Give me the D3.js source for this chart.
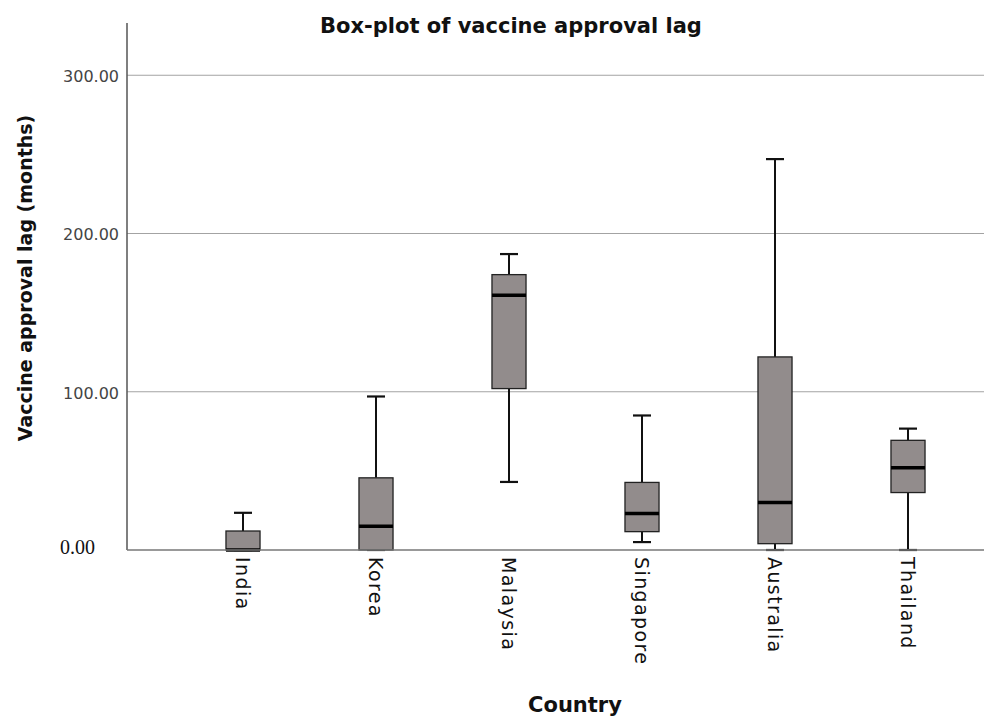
<!DOCTYPE html>
<html>
<head>
<meta charset="utf-8">
<script src="https://cdn.jsdelivr.net/npm/d3@7"></script>
<style>
  body { margin: 0; background: #fff; }
  svg { display: block; }
</style>
</head>
<body>
<div id="chart"></div>
<script>
// box-plot values (months)
const countries = ["India", "Korea", "Malaysia", "Singapore", "Australia", "Thailand"];
const whiskerLow = [0, 0, 43, 5, 0, 0];
const q1 = [0, 0, 102, 11.6, 4, 36.3];
const median = [0, 15, 161, 23, 30, 52];
const q3 = [12, 45.6, 174, 42.7, 122, 69.3];
const whiskerHigh = [23.5, 97, 187, 85, 247, 76.7];
const yTicks = [0, 100, 200, 300];

const width = 984, height = 718;
const plot = {left: 127, right: 984, top: 23, bottom: 550};

const data = countries.map((c, i) => ({
    country: c, lo: whiskerLow[i], q1: q1[i], med: median[i], q3: q3[i], hi: whiskerHigh[i]
}));

const svg = d3.select("#chart")
    .append("svg")
    .attr("width", width)
    .attr("height", height);

const yScale = d3.scaleLinear()
    .domain([0, 333])
    .range([plot.bottom, plot.top]);

const xScale = d3.scaleBand()
    .domain(countries)
    .range([176.5, 974.5])
    .paddingInner(0.744)
    .paddingOuter(0.372);

const boxW = xScale.bandwidth();
const capW = 18;

// grid lines
svg.selectAll(".grid")
    .data(yTicks.filter(d => d > 0))
    .enter().append("line")
    .attr("x1", plot.left)
    .attr("x2", plot.right)
    .attr("y1", d => yScale(d))
    .attr("y2", d => yScale(d))
    .style("stroke", "#a3a3a3")
    .style("stroke-width", 1.2);

// y axis (labels only, the line is drawn separately)
// the zero label is set in a serif face in the original, so it gets its own text below
const fmt = d3.format(".2f");
const yAxis = d3.axisLeft(yScale)
    .tickValues(yTicks.filter(d => d > 0))
    .tickSize(0)
    .tickPadding(8)
    .tickFormat(fmt);

const yg = svg.append("g")
    .attr("transform", `translate(${plot.left},0)`)
    .call(yAxis);
yg.select(".domain").remove();
yg.selectAll("text")
    .attr("font-family", "DejaVu Sans")
    .style("font-size", "16px")
    .style("fill", "#444")
    .attr("dy", "0.4em");

svg.append("text")
    .attr("x", plot.left - 32)
    .attr("y", yScale(0) + 4)
    .attr("text-anchor", "end")
    .attr("font-family", "'Liberation Serif', 'Times New Roman', serif")
    .attr("font-size", 20)
    .attr("fill", "#111")
    .text(fmt(0));

// axis lines
svg.append("line")
    .attr("x1", plot.left).attr("x2", plot.left)
    .attr("y1", plot.top).attr("y2", plot.bottom)
    .style("stroke", "#555").style("stroke-width", 1.5);

// whiskers
const boxes = svg.selectAll(".box")
    .data(data)
    .enter().append("g")
    .attr("class", "box")
    .attr("transform", d => `translate(${xScale(d.country) + boxW / 2},0)`);

boxes.append("line")
    .attr("x1", 0).attr("x2", 0)
    .attr("y1", d => yScale(d.q3))
    .attr("y2", d => yScale(d.hi))
    .style("stroke", "#111").style("stroke-width", 2);

boxes.append("line")
    .attr("x1", 0).attr("x2", 0)
    .attr("y1", d => yScale(d.q1))
    .attr("y2", d => yScale(d.lo))
    .style("stroke", "#111").style("stroke-width", 2);

boxes.append("line")
    .attr("x1", -capW / 2).attr("x2", capW / 2)
    .attr("y1", d => yScale(d.hi))
    .attr("y2", d => yScale(d.hi))
    .style("stroke", "#111").style("stroke-width", 2.2);

boxes.append("line")
    .attr("x1", -capW / 2).attr("x2", capW / 2)
    .attr("y1", d => yScale(d.lo))
    .attr("y2", d => yScale(d.lo))
    .style("stroke", "#111").style("stroke-width", 2.2);

// boxes
boxes.append("rect")
    .attr("x", -boxW / 2)
    .attr("width", boxW)
    .attr("y", d => yScale(d.q3))
    .attr("height", d => yScale(d.q1) - yScale(d.q3))
    .style("fill", "#928c8c")
    .style("stroke", "#222")
    .style("stroke-width", 1.3);

// x baseline
svg.append("line")
    .attr("x1", plot.left).attr("x2", plot.right)
    .attr("y1", plot.bottom).attr("y2", plot.bottom)
    .style("stroke", "#777").style("stroke-width", 1.5);

// medians
boxes.append("line")
    .attr("x1", -boxW / 2).attr("x2", boxW / 2)
    .attr("y1", d => yScale(d.med))
    .attr("y2", d => yScale(d.med))
    .style("stroke", "#000").style("stroke-width", 3.5);

// category labels, rotated to read downwards
svg.selectAll(".xlabel")
    .data(countries)
    .enter().append("text")
    .attr("class", "xlabel")
    .attr("transform", d => `translate(${xScale(d) + boxW / 2},${plot.bottom + 7}) rotate(90)`)
    .attr("dy", "0.35em")
    .attr("text-anchor", "start")
    .style("font-family", "DejaVu Sans")
    .style("font-size", "19px")
    .style("letter-spacing", "1.4px")
    .style("fill", "#111")
    .text(d => d);

// titles
svg.append("text")
    .attr("x", 511)
    .attr("y", 33)
    .attr("text-anchor", "middle")
    .style("font-family", "DejaVu Sans")
    .style("font-weight", "bold")
    .style("font-size", "21px")
    .style("fill", "#111")
    .text("Box-plot of vaccine approval lag");

svg.append("text")
    .attr("transform", "translate(32,278) rotate(-90)")
    .attr("text-anchor", "middle")
    .style("font-family", "DejaVu Sans")
    .style("font-weight", "bold")
    .style("font-size", "19px")
    .style("fill", "#111")
    .text("Vaccine approval lag (months)");

svg.append("text")
    .attr("x", 575)
    .attr("y", 712)
    .attr("text-anchor", "middle")
    .style("font-family", "DejaVu Sans")
    .style("font-weight", "bold")
    .style("font-size", "21px")
    .style("fill", "#111")
    .text("Country");
</script>
</body>
</html>
